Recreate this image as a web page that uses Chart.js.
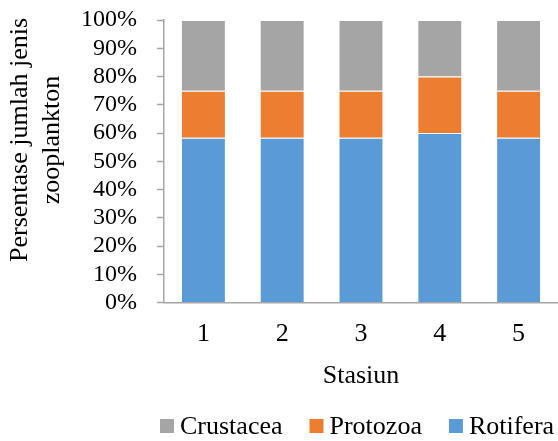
<!DOCTYPE html>
<html>
<head>
<meta charset="utf-8">
<script src="https://cdn.jsdelivr.net/npm/chart.js@4/dist/chart.umd.min.js"></script>
<style>
  html, body { margin: 0; padding: 0; background: #ffffff; }
  #wrap { width: 558px; height: 441px; position: relative; }
</style>
</head>
<body>
<div id="wrap"><canvas id="chart"></canvas></div>
<script>
// Station labels and the share (%) of each zooplankton group per station
const stations = ['1', '2', '3', '4', '5'];
const rotifera = [58.33, 58.33, 58.33, 60, 58.33];
const protozoa = [16.67, 16.67, 16.67, 20, 16.67];
const crustacea = [25, 25, 25, 20, 25];
const yTicks = [0, 10, 20, 30, 40, 50, 60, 70, 80, 90, 100];

const FONT = "'Liberation Serif', 'Times New Roman', serif";
const AXIS = '#a6a6a6';

// Rotated two-line title for the value axis
const yTitlePlugin = {
  id: 'yTitle',
  afterDraw(chart) {
    const ctx = chart.ctx;
    const lines = ['Persentase jumlah jenis', 'zooplankton'];
    ctx.save();
    ctx.font = '26px ' + FONT;
    ctx.fillStyle = '#000';
    ctx.textAlign = 'center';
    ctx.textBaseline = 'middle';
    const cy = 140;
    lines.forEach((t, i) => {
      ctx.save();
      ctx.translate(20 + i * 32, cy);
      ctx.rotate(-Math.PI / 2);
      ctx.fillText(t, 0, 0);
      ctx.restore();
    });
    ctx.restore();
  }
};

// Legend in reverse dataset order: top segment listed first
const legendPlugin = {
  id: 'bottomLegend',
  afterDraw(chart) {
    const ctx = chart.ctx;
    const items = chart.data.datasets.map(d => ({ text: d.label, color: d.backgroundColor })).reverse();
    ctx.save();
    ctx.font = '26px ' + FONT;
    ctx.textBaseline = 'middle';
    ctx.textAlign = 'left';
    const box = 14, gap = 6, itemGap = 27;
    let x = chart.chartArea.left - 4;
    const y = 426;
    items.forEach(it => {
      ctx.fillStyle = it.color;
      ctx.fillRect(x, y - box / 2, box, box);
      ctx.fillStyle = '#000';
      const tx = x + box + gap;
      ctx.fillText(it.text, tx, y + 1);
      x = tx + ctx.measureText(it.text).width + itemGap;
    });
    ctx.restore();
  }
};

new Chart(document.getElementById('chart'), {
  type: 'bar',
  data: {
    labels: stations,
    datasets: [
      { label: 'Rotifera', data: rotifera, backgroundColor: '#5b9bd5' },
      { label: 'Protozoa', data: protozoa, backgroundColor: '#ed7d31' },
      { label: 'Crustacea', data: crustacea, backgroundColor: '#a5a5a5' }
    ]
  },
  plugins: [yTitlePlugin, legendPlugin],
  options: {
    responsive: true,
    maintainAspectRatio: false,
    animation: false,
    devicePixelRatio: 1,
    layout: { padding: { top: 20, right: 0, bottom: 43.5, left: 0 } },
    datasets: {
      bar: {
        categoryPercentage: 1,
        barPercentage: 0.57,
        borderColor: 'rgba(255,255,255,0.55)',
        borderWidth: 1
      }
    },
    plugins: {
      legend: { display: false },
      tooltip: { enabled: false }
    },
    scales: {
      x: {
        stacked: true,
        offset: true,
        grid: { display: true, drawOnChartArea: false, drawTicks: false },
        border: { color: AXIS, width: 1.5 },
        ticks: { color: '#000', font: { family: FONT, size: 26 }, padding: 16 },
        title: {
          display: true,
          text: 'Stasiun',
          color: '#000',
          font: { family: FONT, size: 26 },
          padding: { top: 0, bottom: 6 }
        },
        afterFit(scale) { scale.height = 95; }
      },
      y: {
        stacked: true,
        min: 0,
        max: 100,
        afterBuildTicks(scale) { scale.ticks = yTicks.map(v => ({ value: v })); },
        grid: { display: true, drawOnChartArea: false, drawTicks: true, tickLength: 7, tickColor: AXIS, tickWidth: 1.5 },
        border: { color: AXIS, width: 1.5 },
        ticks: {
          color: '#000',
          font: { family: FONT, size: 24 },
          padding: 20,
          autoSkip: false,
          callback: v => v + '%'
        },
        afterFit(scale) {
          scale.width = 164;
          scale.paddingTop = 0;
          scale.paddingBottom = 0;
        }
      }
    }
  }
});
</script>
</body>
</html>
